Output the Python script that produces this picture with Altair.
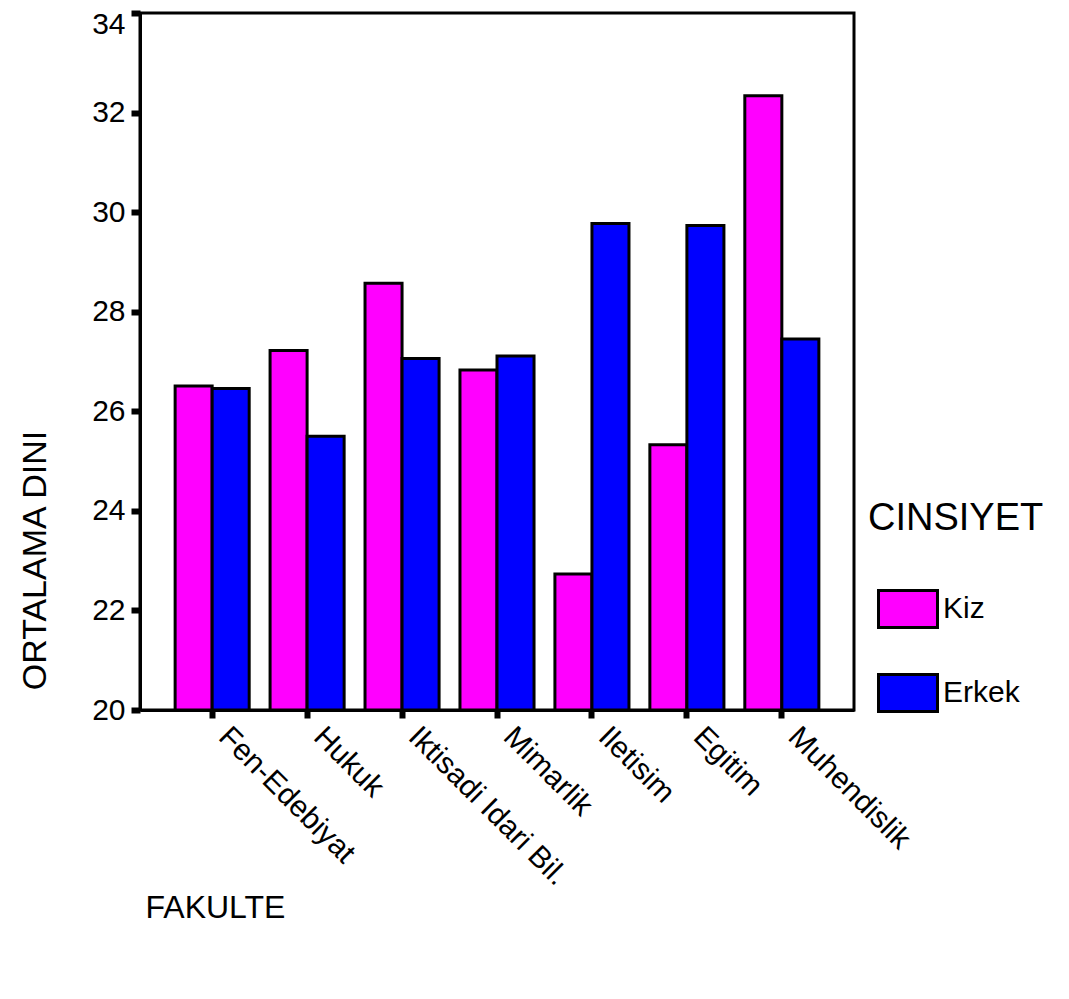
import altair as alt
import pandas as pd

fakulte = ["Fen-Edebiyat", "Hukuk", "Iktisadi Idari Bil.", "Mimarlik",
           "Iletisim", "Egitim", "Muhendislik"]
kiz = [26.51, 27.22, 28.57, 26.83, 22.73, 25.33, 32.34]
erkek = [26.46, 25.50, 27.06, 27.11, 29.77, 29.73, 27.45]
gruplar = ["Kiz", "Erkek"]
renkler = ["#FF00FF", "#0000FF"]
y_ticks = [20, 22, 24, 26, 28, 30, 32, 34]

rows = []
for f, k, e in zip(fakulte, kiz, erkek):
    rows.append({"FAKULTE": f, "CINSIYET": "Kiz", "val": k})
    rows.append({"FAKULTE": f, "CINSIYET": "Erkek", "val": e})
df = pd.DataFrame(rows)

FONT = "Liberation Sans"

chart = alt.Chart(df).mark_bar(stroke="black", strokeWidth=3, opacity=1).encode(
    x=alt.X("FAKULTE:N", sort=fakulte,
            scale=alt.Scale(paddingInner=0.22, paddingOuter=0.37),
            axis=alt.Axis(title="FAKULTE", labelAngle=45, labelAlign="left",
                          labelBaseline="top", labelFontSize=30, labelPadding=3,
                          labelOffset=22, labelLimit=0, labelColor="black",
                          labelFont=FONT,
                          tickSize=8, tickWidth=6, tickColor="black",
                          domainColor="black", domainWidth=3,
                          titleFontSize=32, titleFontWeight="normal", titleFont=FONT,
                          titleColor="black", titleX=5, titleY=197,
                          titleAlign="left", titleBaseline="middle", titleAnchor="start")),
    xOffset=alt.XOffset("CINSIYET:N", sort=gruplar,
                        scale=alt.Scale(paddingInner=0, paddingOuter=0)),
    y=alt.Y("val:Q", scale=alt.Scale(domain=[20, 34], nice=False, zero=False),
            axis=alt.Axis(title="ORTALAMA DINI", values=y_ticks, grid=False,
                          labelFontSize=30, labelPadding=6, labelColor="black",
                          labelFont=FONT, tickSize=9, tickWidth=6, tickColor="black",
                          labelOffset={"condition": {"test": "datum.value == 34", "value": 11},
                                       "value": 0},
                          domainColor="black", domainWidth=3,
                          titleFontSize=34, titleFontWeight="normal", titleFont=FONT,
                          titleColor="black", titleX=-105, titleY=547,
                          titleAngle=-90, titleAlign="center", titleBaseline="middle")),
    y2=alt.datum(20),
    color=alt.Color("CINSIYET:N", sort=gruplar,
                    scale=alt.Scale(domain=gruplar, range=renkler),
                    legend=alt.Legend(title="CINSIYET", orient="none",
                                      legendX=728, legendY=487,
                                      titleFontSize=38, titleFontWeight="normal",
                                      titleFont=FONT, titleColor="black",
                                      titlePadding=40, titleBaseline="top",
                                      labelFontSize=30, labelFont=FONT,
                                      labelColor="black", labelOffset=4,
                                      symbolType="M-1,-0.627H1V0.627H-1Z",
                                      symbolSize=3481, symbolStrokeColor="black",
                                      symbolStrokeWidth=3, symbolOpacity=1,
                                      symbolOffset=9, rowPadding=28, padding=0)),
).properties(
    width=714, height=697,
    autosize=alt.AutoSizeParams(type="none"),
    padding={"left": 132, "top": 5, "right": 200, "bottom": 270},
).configure_view(stroke="black", strokeWidth=3)

chart.save("out.html", embed_options={"renderer": "svg", "actions": False})
